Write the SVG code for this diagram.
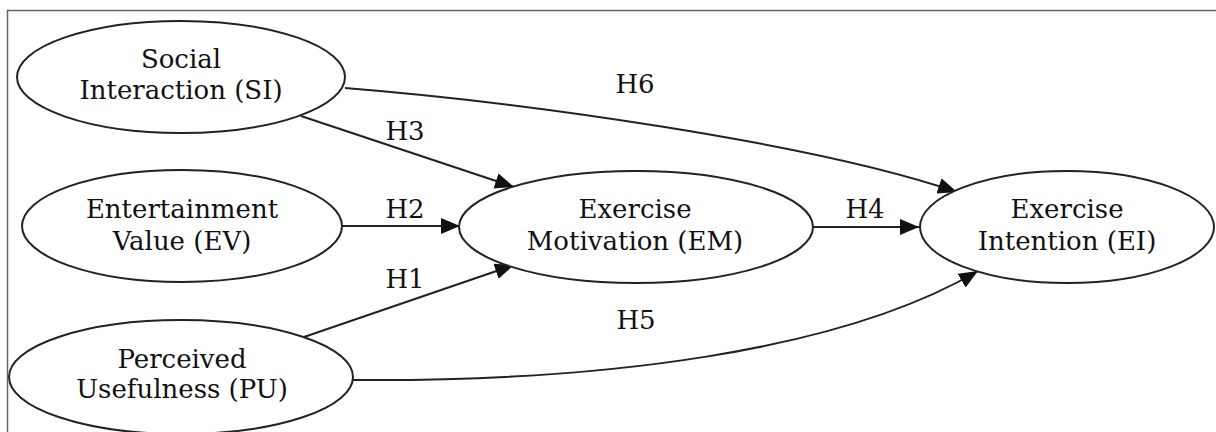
<svg xmlns="http://www.w3.org/2000/svg" width="1216" height="432" viewBox="0 0 1216 432">
<style>
.n ellipse{fill:#fff;stroke:#222;stroke-width:2}
text{font-family:"DejaVu Serif","Liberation Serif",serif;font-size:26px;fill:#111;text-anchor:middle}
.e path{fill:none;stroke:#222;stroke-width:2}
</style>
<defs>
<marker id="ah" markerUnits="userSpaceOnUse" markerWidth="19" markerHeight="16" viewBox="0 0 19 16" refX="19" refY="8" orient="auto">
<path d="M0,0 L19,8 L0,16 z" fill="#111"/>
</marker>
</defs>
<rect x="7.5" y="10.5" width="1220" height="430" fill="#fff" stroke="#666" stroke-width="1.5"/>
<g class="e" id="edges">
<path d="M345,88 C520,102 810,142 957,192" marker-end="url(#ah)"/>
<path d="M301,116 L514,187" marker-end="url(#ah)"/>
<path d="M342,226 L460,226" marker-end="url(#ah)"/>
<path d="M304,337 L514,265" marker-end="url(#ah)"/>
<path d="M813,227 L919,227" marker-end="url(#ah)"/>
<path d="M353,380 C600,382 840,352 978,271" marker-end="url(#ah)"/>
<text x="635" y="93">H6</text>
<text x="405" y="140">H3</text>
<text x="405" y="218">H2</text>
<text x="405" y="288">H1</text>
<text x="865" y="218">H4</text>
<text x="636" y="329">H5</text>
</g>
<g class="n" id="SI">
<ellipse cx="181" cy="77" rx="164" ry="56"/>
<text x="181" y="68">Social</text>
<text x="181" y="99">Interaction (SI)</text>
</g>
<g class="n" id="EV">
<ellipse cx="182" cy="226" rx="160" ry="56"/>
<text x="182" y="218">Entertainment</text>
<text x="182" y="250">Value (EV)</text>
</g>
<g class="n" id="PU">
<ellipse cx="181" cy="377" rx="172" ry="57"/>
<text x="182" y="368">Perceived</text>
<text x="182" y="398">Usefulness (PU)</text>
</g>
<g class="n" id="EM">
<ellipse cx="636" cy="227" rx="177" ry="56"/>
<text x="635" y="218">Exercise</text>
<text x="635" y="250">Motivation (EM)</text>
</g>
<g class="n" id="EI">
<ellipse cx="1067" cy="227" rx="147" ry="56"/>
<text x="1067" y="218">Exercise</text>
<text x="1067" y="250">Intention (EI)</text>
</g>
</svg>
